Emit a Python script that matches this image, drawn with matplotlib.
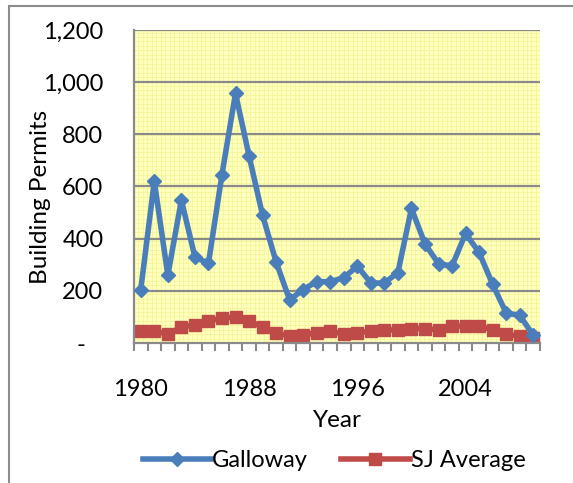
import numpy as np
import matplotlib
matplotlib.use("Agg")
import matplotlib.pyplot as plt
from matplotlib.patches import Rectangle

plt.rcParams['font.family'] = ['Lato', 'DejaVu Sans']

years = list(range(1980, 2010))
galloway = [205, 620, 260, 548, 330, 305, 646, 957, 718, 490,
            311, 165, 205, 235, 235, 250, 295, 230, 230, 270,
            516, 380, 304, 295, 420, 347, 225, 115, 106, 30]
sj_average = [45, 45, 35, 60, 70, 85, 95, 100, 85, 60,
              40, 25, 30, 40, 45, 35, 40, 45, 50, 50,
              55, 55, 50, 65, 65, 65, 50, 35, 25, 20]
label_years = [1980, 1988, 1996, 2004]

fig = plt.figure(figsize=(5.73, 4.83), dpi=100)
fig.patches.append(Rectangle((9 / 573, -0.1), 1.2, 1 - 6 / 483 + 0.1,
                             transform=fig.transFigure, fill=False,
                             edgecolor='#8c8c8c', linewidth=1.5))

ax = fig.add_axes([134 / 573, 1 - 343 / 483, 406 / 573, 313 / 483])
ax.set_facecolor('#ffffc0')

x = np.arange(len(years))
ax.set_xlim(-0.5, len(years) - 0.5)
ax.set_ylim(0, 1200)

# fine pattern in the background
for xv in np.arange(-0.5, len(years), 0.33):
    ax.axvline(xv, color='#f5f596', lw=0.6, zorder=0)
for yv in np.arange(0, 1200, 17):
    ax.axhline(yv, color='#f5f596', lw=0.6, zorder=0)

for yv in range(200, 1201, 200):
    ax.axhline(yv, color='#8a8a8a', lw=1.6, zorder=1)

ax.plot(x, galloway, color='#4a7ebb', lw=4, marker='D', markersize=7.5,
        label='Galloway', zorder=3)
ax.plot(x, sj_average, color='#be4b48', lw=4, marker='s', markersize=9,
        label='SJ Average', zorder=2)

ax.set_yticks(range(0, 1201, 200))
ax.set_yticklabels(['-   '] + [f'{v:,}' for v in range(200, 1201, 200)])
ax.tick_params(axis='y', length=0, pad=22, labelsize=17)

ax.set_xticks(np.arange(-0.5, len(years), 1))
ax.set_xticklabels([])
ax.tick_params(axis='x', which='major', length=6, width=1.5, color='#8a8a8a')
ax.set_xticks([years.index(y) for y in label_years], minor=True)
ax.set_xticklabels([str(y) for y in label_years], minor=True)
ax.tick_params(axis='x', which='minor', length=0, pad=26, labelsize=17)

for s in ['top', 'right']:
    ax.spines[s].set_visible(False)
for s in ['left', 'bottom']:
    ax.spines[s].set_color('#8a8a8a')
    ax.spines[s].set_linewidth(1.6)

ax.set_xlabel('Year', fontsize=17.5, labelpad=7)
ax.set_ylabel('Building Permits', fontsize=17.5)
ax.yaxis.set_label_coords(-0.205, 0.466)

fig.legend(loc='lower center', bbox_to_anchor=(0.583, -0.02), ncol=2,
           frameon=False, fontsize=17, handlelength=2.9, columnspacing=1.4,
           handletextpad=0.05)

fig.savefig('out.png', dpi=100)
